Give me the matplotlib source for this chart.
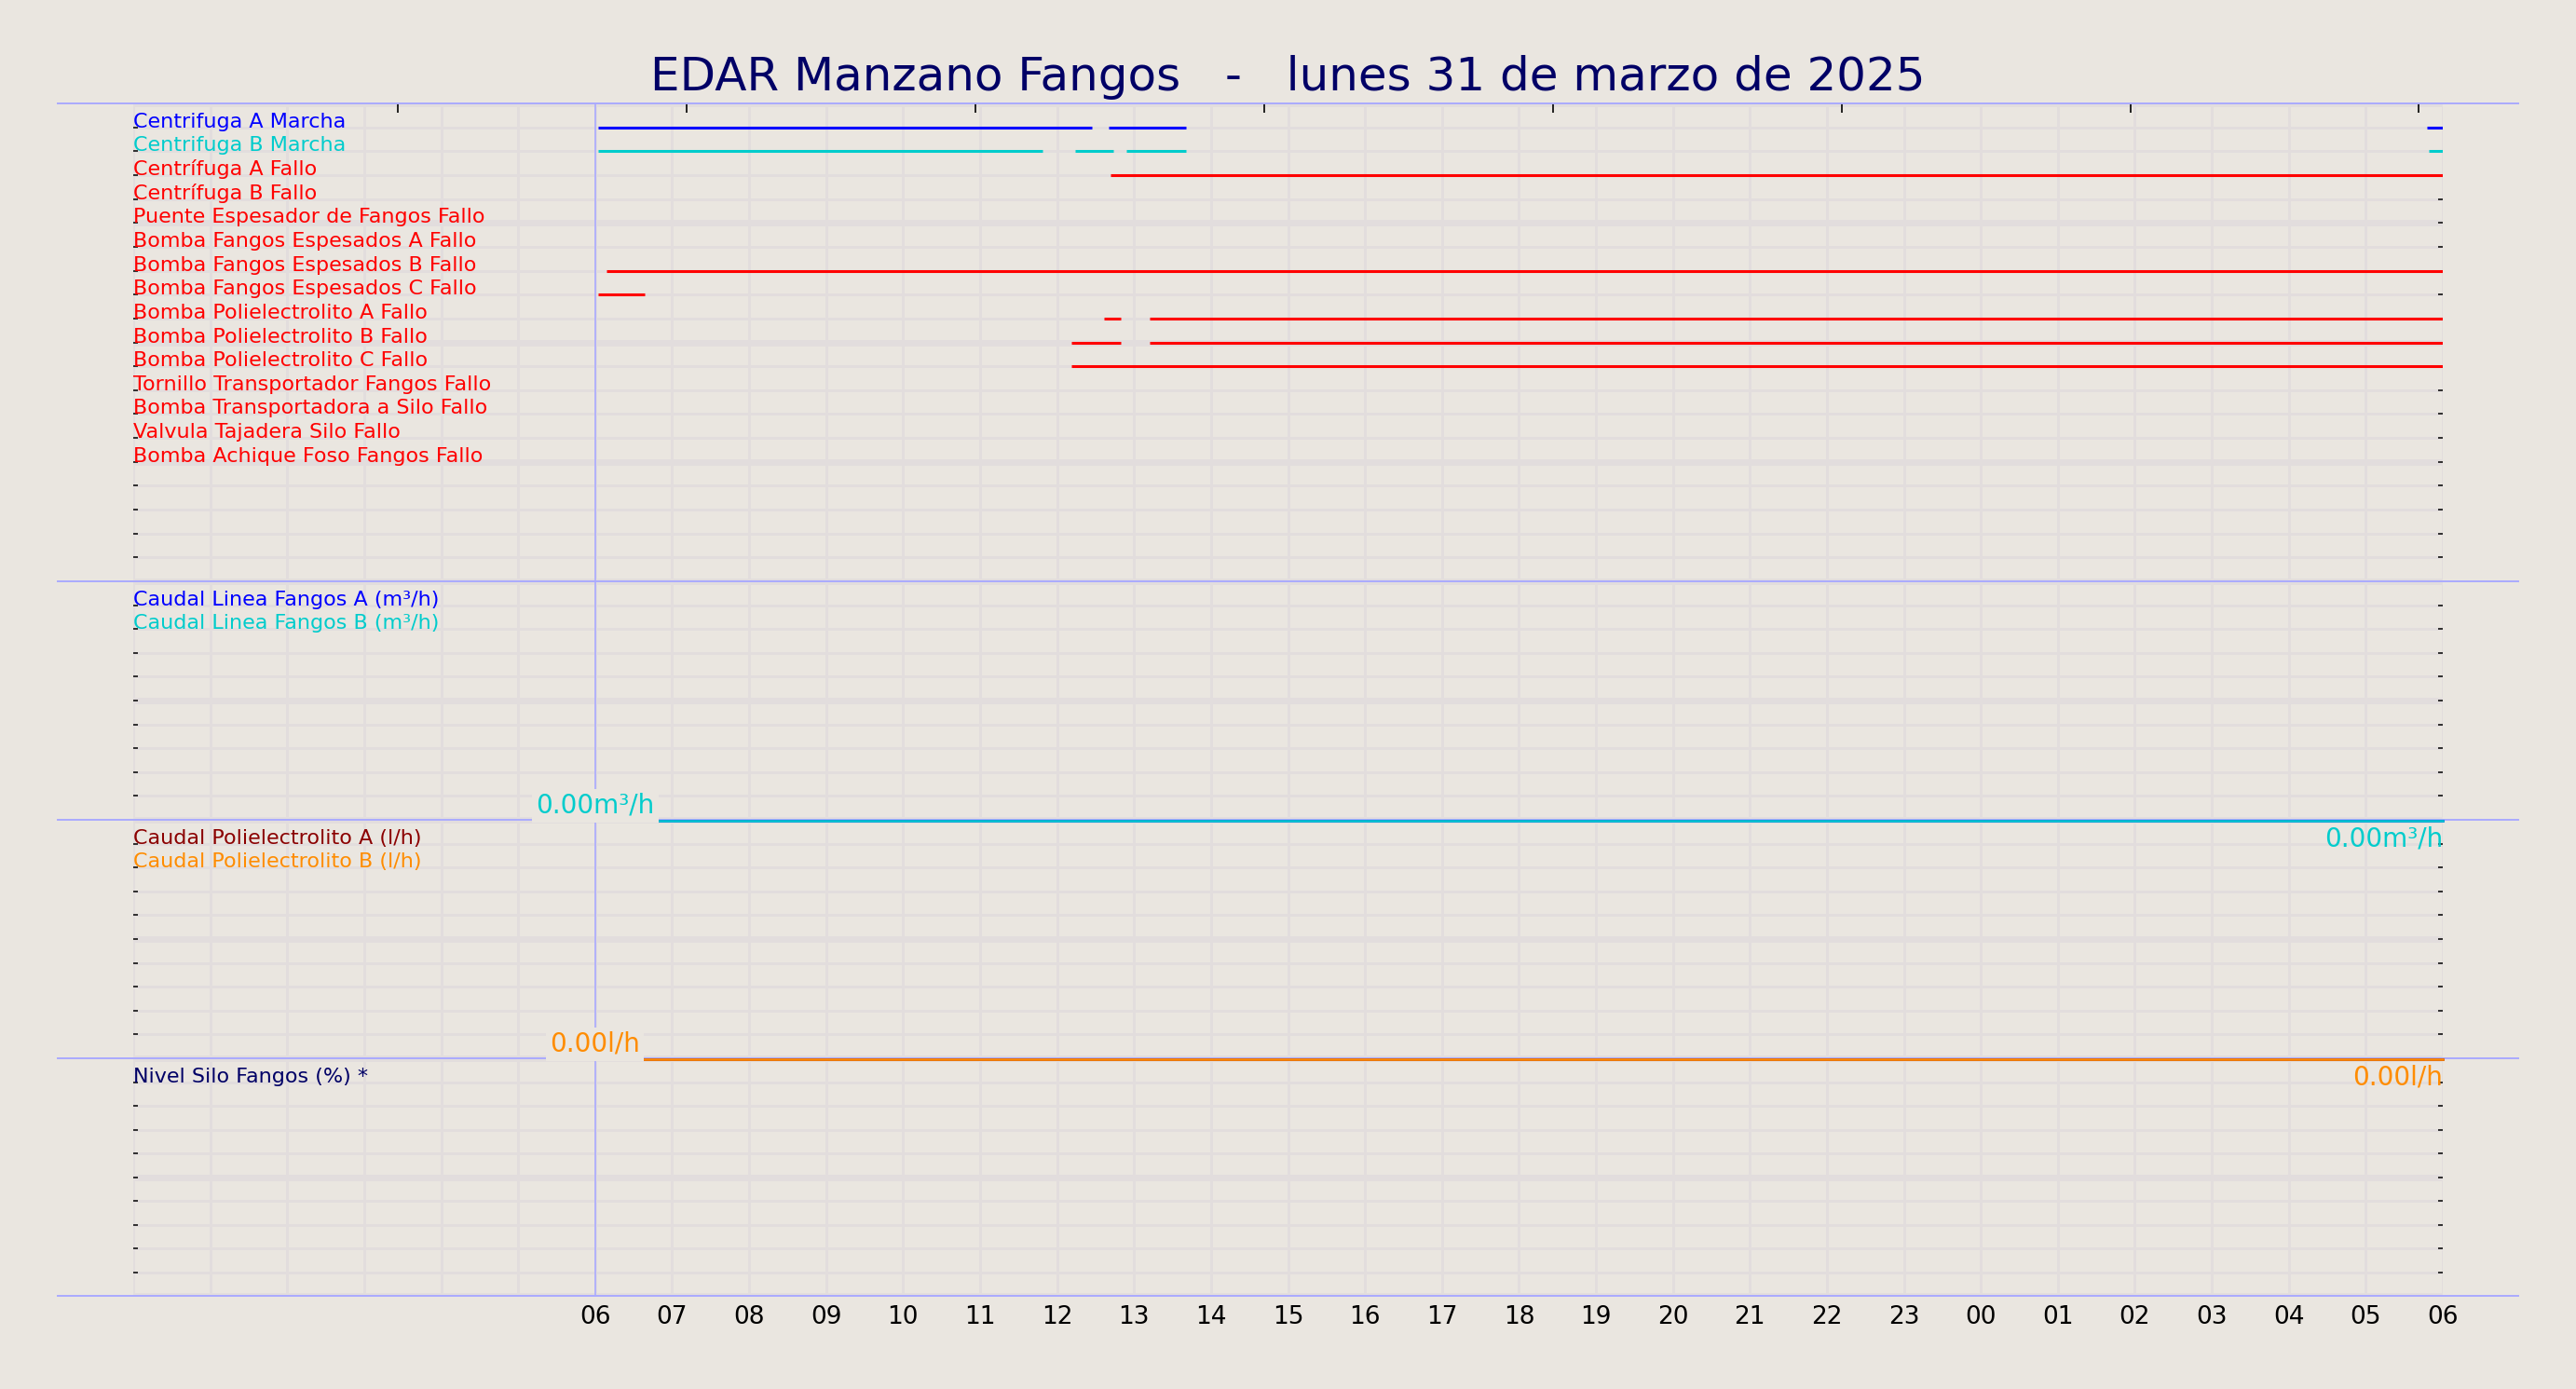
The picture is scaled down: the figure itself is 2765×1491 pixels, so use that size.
import matplotlib
matplotlib.use("Agg")
import matplotlib.pyplot as plt
from matplotlib.lines import Line2D
from matplotlib.transforms import offset_copy

# colores generales
FONDO = "#eae6e0"
REJILLA = "#e2dddd"
LAVANDA = "#aaaaff"
AZUL_TIT = "#000066"

TITULO = "EDAR Manzano Fangos   -   lunes 31 de marzo de 2025"

# eje x en horas desde las 00:00 del 31/03 hasta las 06:00 del 01/04
horas = list(range(0, 31))
etiquetas_horas = ["", "", "", "", "", "",
                   "06", "07", "08", "09", "10", "11", "12", "13", "14", "15",
                   "16", "17", "18", "19", "20", "21", "22", "23",
                   "00", "01", "02", "03", "04", "05", "06"]
hora_inicio = 6
marcas_sup = [3.44, 7.19, 10.94, 14.69, 18.44, 22.19, 25.94, 29.69]

# senales digitales (marcha / fallo)
senales = [
    "Centrifuga A Marcha",
    "Centrifuga B Marcha",
    "Centrífuga A Fallo",
    "Centrífuga B Fallo",
    "Puente Espesador de Fangos Fallo",
    "Bomba Fangos Espesados A Fallo",
    "Bomba Fangos Espesados B Fallo",
    "Bomba Fangos Espesados C Fallo",
    "Bomba Polielectrolito A Fallo",
    "Bomba Polielectrolito B Fallo",
    "Bomba Polielectrolito C Fallo",
    "Tornillo Transportador Fangos Fallo",
    "Bomba Transportadora a Silo Fallo",
    "Valvula Tajadera Silo Fallo",
    "Bomba Achique Foso Fangos Fallo",
]
colores_senales = ["#0000ff", "#00cccc"] + ["#ff0000"] * 13
tramos = [
    [(6.04, 12.45), (12.67, 13.68), (29.80, 30.0)],
    [(6.04, 11.81), (12.24, 12.73), (12.90, 13.68), (29.82, 30.0)],
    [(12.69, 30.0)],
    [],
    [],
    [],
    [(6.15, 30.0)],
    [(6.04, 6.64)],
    [(12.61, 12.83), (13.20, 30.0)],
    [(12.19, 12.83), (13.20, 30.0)],
    [(12.19, 30.0)],
    [],
    [],
    [],
    [],
]

# senales analogicas
t_analog = [6, 30]
fangos_nombres = ["Caudal Linea Fangos A (m³/h)", "Caudal Linea Fangos B (m³/h)"]
fangos_colores = ["#0000ff", "#00cccc"]
caudal_fangos_a = [0.0, 0.0]
caudal_fangos_b = [0.0, 0.0]
unidad_fangos = "m³/h"

poli_nombres = ["Caudal Polielectrolito A (l/h)", "Caudal Polielectrolito B (l/h)"]
poli_colores = ["#8b0000", "#ff8c00"]
caudal_poli_a = [0.0, 0.0]
caudal_poli_b = [0.0, 0.0]
unidad_poli = "l/h"

silo_nombres = ["Nivel Silo Fangos (%) *"]
silo_colores = [AZUL_TIT]


W, H = 2765, 1491
fig = plt.figure(figsize=(W / 100, H / 100), dpi=100, facecolor=FONDO)

izq, der = 143, 2622
limites = [111, 624, 880, 1136, 1391]
filas = [20, 10, 10, 10]

# lineas separadoras de paneles (debajo de las cajas de valor)
for y in limites:
    yf = 1 - y / H
    fig.add_artist(Line2D([62 / W, 2703 / W], [yf, yf], color=LAVANDA, lw=1.4, zorder=2))

ejes = []
for i in range(4):
    y0 = 1 - limites[i + 1] / H
    alto = (limites[i + 1] - limites[i]) / H
    ax = fig.add_axes([izq / W, y0, (der - izq) / W, alto])
    ax.set_facecolor(FONDO)
    ax.set_xlim(0, 30)
    n = filas[i]
    if i == 0:
        ax.set_ylim(n, 0)
    else:
        ax.set_ylim(0, n)
    for s in ax.spines.values():
        s.set_visible(False)
    # rejilla
    for h in horas:
        ax.axvline(h, color=REJILLA, lw=2.0, zorder=0)
    for r in range(0, n + 1):
        ax.axhline(r, color=REJILLA, lw=5.0 if r % 5 == 0 else 2.0, zorder=0)
    ax.axvline(hora_inicio, color=LAVANDA, lw=1.2, zorder=1)
    ax.set_yticks(range(1, n))
    ax.set_yticklabels([])
    ax.tick_params(axis="y", direction="in", length=3.5, width=1.1,
                   color="black", left=True, right=True)
    ax.set_xticks(horas)
    ax.set_xticklabels(etiquetas_horas if i == 3 else [])
    ax.tick_params(axis="x", length=0, labelsize=19, pad=7, colors="black")
    ejes.append(ax)

# panel 1: senales digitales
ax1 = ejes[0]
for fila, (nombre, color, tr) in enumerate(zip(senales, colores_senales, tramos), start=1):
    ax1.text(0, fila, nombre, color=color, fontsize=16, ha="left", va="baseline", zorder=4)
    for a, b in tr:
        ax1.hlines(fila, a, b, color=color, lw=2.2, zorder=3)

sec = ax1.secondary_xaxis("top")
sec.set_xticks(marcas_sup)
sec.set_xticklabels([])
sec.tick_params(direction="in", length=7, width=1.2, color="black", pad=0)
for s in sec.spines.values():
    s.set_visible(False)


def panel_analogico(ax, nombres, colores, series, unidad, col_valor):
    n = 10
    for k, (nombre, color) in enumerate(zip(nombres, colores)):
        ax.text(0, n - 1 - k, nombre, color=color, fontsize=16, ha="left",
                va="baseline", zorder=4)
    # la linea de valor se dibuja encima del separador del panel
    bajada = offset_copy(ax.transData, fig=fig, y=-0.6, units="points")
    for color, valores in zip(colores, series):
        fig.add_artist(Line2D(t_analog, valores, color=color, lw=1.8,
                              transform=bajada, zorder=2.5))
    if series:
        ult = series[-1]
        arriba = offset_copy(ax.transData, fig=fig, y=11.0, units="points")
        fig.text(t_analog[0], ult[0], f"{ult[0]:.2f}{unidad}", transform=arriba,
                 color=col_valor, fontsize=20, ha="center", va="center", zorder=5,
                 bbox=dict(facecolor=FONDO, edgecolor="none", pad=3))
        abajo = offset_copy(ax.transData, fig=fig, y=-14.5, units="points")
        fig.text(t_analog[-1], ult[-1], f"{ult[-1]:.2f}{unidad}", transform=abajo,
                 color=col_valor, fontsize=20, ha="right", va="center", zorder=5)


panel_analogico(ejes[1], fangos_nombres, fangos_colores,
                [caudal_fangos_a, caudal_fangos_b], unidad_fangos, "#00cccc")
panel_analogico(ejes[2], poli_nombres, poli_colores,
                [caudal_poli_a, caudal_poli_b], unidad_poli, "#ff8c00")
panel_analogico(ejes[3], silo_nombres, silo_colores, [], "", AZUL_TIT)

fig.text(0.5, 1 - 83 / H, TITULO, color=AZUL_TIT, fontsize=36, ha="center", va="center")

fig.savefig("out.png", dpi=100, facecolor=FONDO)
